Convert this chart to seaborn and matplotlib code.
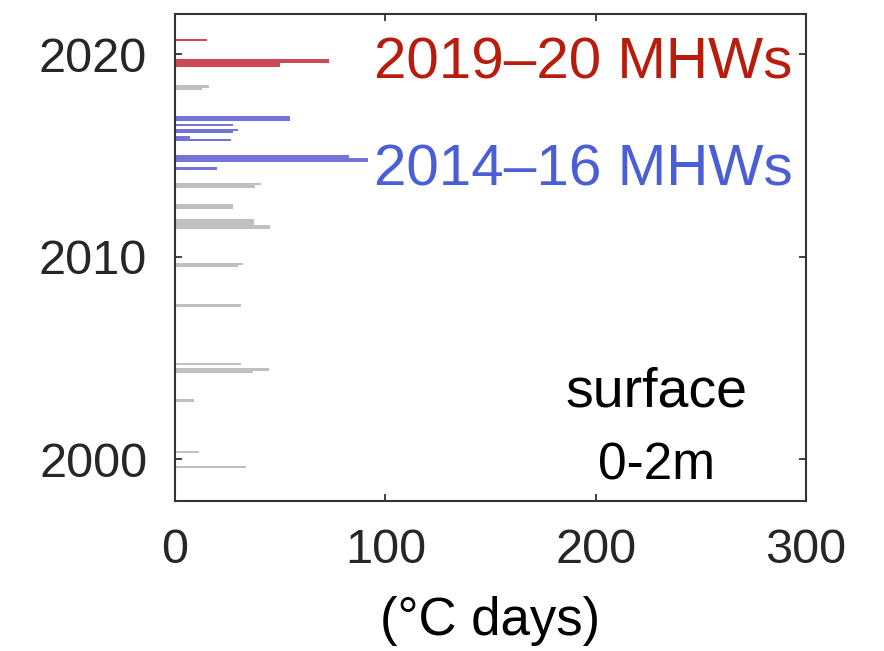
import matplotlib
matplotlib.use('Agg')
import matplotlib.pyplot as plt
import seaborn as sns

# marine heatwave events: start / end (decimal year), cumulative intensity (°C days)
event_start = [2020.66, 2019.57, 2019.40, 2018.36, 2018.25,
               2016.70, 2016.47, 2016.22, 2016.11, 2015.84, 2015.71,
               2014.90, 2014.67, 2014.29,
               2013.55, 2013.42, 2012.38, 2011.58, 2011.36,
               2009.60, 2009.49, 2007.54,
               2004.64, 2004.38, 2004.25, 2002.85, 2000.31, 1999.56]
event_end = [2020.77, 2019.76, 2019.57, 2018.48, 2018.36,
             2016.96, 2016.58, 2016.33, 2016.22, 2015.96, 2015.84,
             2015.05, 2014.90, 2014.43,
             2013.65, 2013.55, 2012.61, 2011.86, 2011.58,
             2009.71, 2009.60, 2007.67,
             2004.76, 2004.51, 2004.38, 2002.98, 2000.42, 1999.68]
intensity = [15.1, 73.2, 49.9, 16.3, 12.7,
             54.7, 27.7, 30.1, 27.7, 7.1, 26.6,
             82.9, 91.6, 20.1,
             40.7, 38.0, 27.7, 37.7, 45.2,
             32.5, 30.1, 31.2,
             31.2, 44.7, 37.2, 9.0, 11.6, 33.8]
period = ['2019-20'] * 3 + ['other'] * 2 + ['2014-16'] * 9 + ['other'] * 14

x_ticks = [0, 100, 200, 300]
y_ticks = [2000, 2010, 2020]

colors = {'2019-20': '#cf4858', '2014-16': '#7474d8', 'other': '#c0c0c0'}

sns.set_theme(style='ticks')
plt.rcParams['font.family'] = ['Liberation Sans', 'DejaVu Sans']

fig = plt.figure(figsize=(8.84, 6.51), dpi=100)
ax = fig.add_axes([175 / 884, 150.3 / 651, 631 / 884, 486.7 / 651])

for s, e, v, p in zip(event_start, event_end, intensity, period):
    ax.barh(s, v, height=e - s, left=0, align='edge', color=colors[p], linewidth=0)

ax.set_xlim(0, 300)
ax.set_ylim(1997.95, 2022.0)
ax.set_xticks(x_ticks)
ax.set_yticks(y_ticks)
ax.tick_params(axis='both', direction='in', length=5, width=1.3, color='#333333',
               labelsize=35, labelcolor='#262626', top=True, right=True)
ax.tick_params(axis='x', pad=20)
ax.tick_params(axis='y', pad=20)
for sp in ax.spines.values():
    sp.set_linewidth(1.5)
    sp.set_color('#333333')

ax.set_xlabel('(°C days)', fontsize=38, color='black', labelpad=16)

ax.text(293.5, 2018.79, '2019–20 MHWs', color='#b71c0c', fontsize=42,
        ha='right', va='baseline')
ax.text(293.5, 2013.55, '2014–16 MHWs', color='#4a5fd5', fontsize=42,
        ha='right', va='baseline')
ax.text(228.7, 2002.6, 'surface', color='black', fontsize=40, ha='center', va='baseline')
ax.text(228.7, 1998.98, '0-2m', color='black', fontsize=37, ha='center', va='baseline')

fig.savefig('out.png', dpi=100)
